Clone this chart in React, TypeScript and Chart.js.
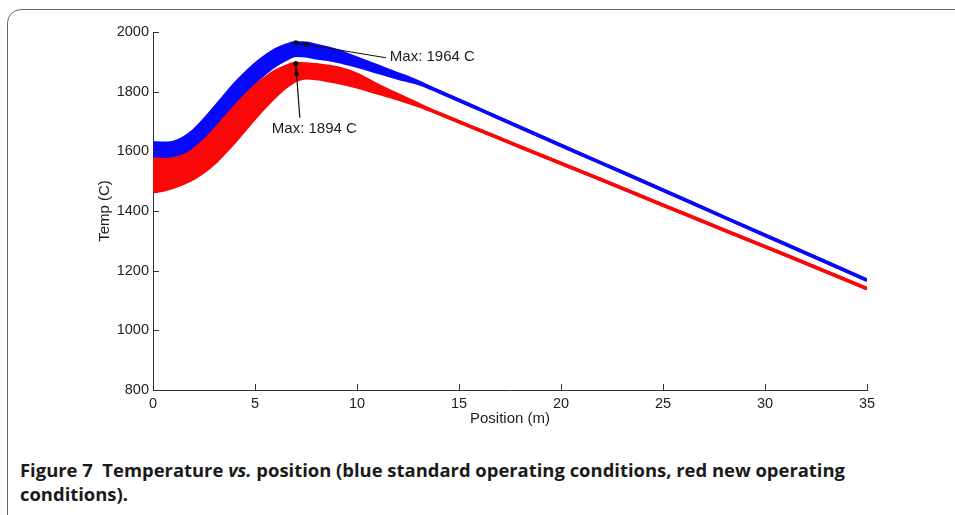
import React, { useEffect, useRef } from 'react';
import { Chart, registerables } from 'chart.js';

Chart.register(...registerables);

// Position (m)
const positions = [0, 0.5, 1, 1.5, 2, 2.5, 3, 3.5, 4, 4.5, 5, 5.5, 6, 6.5, 7, 7.5, 8, 9, 10, 11, 12, 13, 14, 16, 18, 20, 22, 25, 28, 31, 35];
// Blue: standard operating conditions (upper / lower envelope of the oscillating trace)
const blueUpper = [1628, 1627, 1630, 1645, 1670, 1705, 1745, 1785, 1825, 1860, 1892, 1918, 1940, 1955, 1964, 1962, 1955, 1938, 1912, 1886, 1860, 1833, 1801, 1741, 1680, 1620, 1560, 1470, 1379, 1289, 1168];
const blueLower = [1576, 1574, 1578, 1590, 1612, 1645, 1683, 1722, 1762, 1798, 1832, 1862, 1888, 1908, 1922, 1920, 1914, 1903, 1886, 1866, 1846, 1828, 1801, 1741, 1680, 1620, 1560, 1470, 1379, 1289, 1168];
// Red: new operating conditions
const redUpper = [1574, 1572, 1575, 1585, 1605, 1635, 1670, 1710, 1748, 1785, 1818, 1845, 1868, 1884, 1894, 1893, 1890, 1880, 1858, 1822, 1790, 1758, 1727, 1671, 1615, 1560, 1504, 1420, 1336, 1253, 1140];
const redLower = [1465, 1470, 1480, 1493, 1510, 1532, 1560, 1595, 1632, 1672, 1712, 1750, 1785, 1815, 1838, 1847, 1844, 1832, 1816, 1796, 1776, 1753, 1727, 1671, 1615, 1560, 1504, 1420, 1336, 1253, 1140];

const xTicks = [0, 5, 10, 15, 20, 25, 30, 35];
const yTicks = [800, 1000, 1200, 1400, 1600, 1800, 2000];

const maxPositions = [7, 7];
const maxValues = [1964, 1894];
const maxLabels = ['Max: 1964 C', 'Max: 1894 C'];

const xTitle = 'Position (m)';
const yTitle = 'Temp (C)';

const BLUE = 'rgb(8,8,250)';
const RED = 'rgb(250,8,8)';
const AXIS = '#333333';
const TEXT = '#1e1e1e';
const FONT = '"Liberation Sans", Arial, sans-serif';

function pts(vals: number[]) {
  return positions.map((p, i) => ({ x: p, y: vals[i] }));
}

function arrow(ctx: CanvasRenderingContext2D, fx: number, fy: number, tx: number, ty: number) {
  const ang = Math.atan2(ty - fy, tx - fx);
  ctx.beginPath();
  ctx.moveTo(fx, fy);
  ctx.lineTo(tx, ty);
  ctx.stroke();
  const tipX = tx - Math.cos(ang) * 3;
  const tipY = ty - Math.sin(ang) * 3;
  const len = 9;
  const w = 2.6;
  const bx = tipX - Math.cos(ang) * len;
  const by = tipY - Math.sin(ang) * len;
  ctx.beginPath();
  ctx.moveTo(tipX, tipY);
  ctx.lineTo(bx + Math.sin(ang) * w, by - Math.cos(ang) * w);
  ctx.lineTo(bx - Math.sin(ang) * w, by + Math.cos(ang) * w);
  ctx.closePath();
  ctx.fill();
}

const overlay = {
  id: 'overlay',
  afterDatasetsDraw(chart: any) {
    const { ctx, chartArea: a, scales } = chart;
    const x = scales.x;
    const y = scales.y;
    ctx.save();
    ctx.strokeStyle = AXIS;
    ctx.lineWidth = 1;
    xTicks.forEach((v) => {
      const px = Math.round(x.getPixelForValue(v)) + 0.5;
      ctx.beginPath();
      ctx.moveTo(px, a.bottom);
      ctx.lineTo(px, a.bottom - 6);
      ctx.stroke();
    });
    yTicks.forEach((v) => {
      const py = Math.round(y.getPixelForValue(v)) + 0.5;
      ctx.beginPath();
      ctx.moveTo(a.left, py);
      ctx.lineTo(a.left + 6, py);
      ctx.stroke();
    });

    // annotations
    ctx.strokeStyle = '#111';
    ctx.fillStyle = '#111';
    ctx.lineWidth = 1.2;
    ctx.font = `15px ${FONT}`;
    ctx.textBaseline = 'middle';
    ctx.textAlign = 'left';
    const p0x = x.getPixelForValue(maxPositions[0]);
    const p0y = y.getPixelForValue(maxValues[0]);
    arrow(ctx, p0x + 90, p0y + 15, p0x, p0y);
    ctx.beginPath();
    ctx.arc(p0x, p0y, 2.6, 0, Math.PI * 2);
    ctx.fill();
    ctx.fillStyle = TEXT;
    ctx.fillText(maxLabels[0], p0x + 94, p0y + 14);

    const p1x = x.getPixelForValue(maxPositions[1]);
    const p1y = y.getPixelForValue(maxValues[1]);
    ctx.fillStyle = '#111';
    arrow(ctx, p1x + 4, p1y + 54, p1x, p1y);
    ctx.beginPath();
    ctx.arc(p1x, p1y, 2.6, 0, Math.PI * 2);
    ctx.fill();
    ctx.fillStyle = TEXT;
    ctx.fillText(maxLabels[1], p1x - 24, p1y + 65);
    ctx.restore();
  },
};

export default function App() {
  const canvasRef = useRef<HTMLCanvasElement | null>(null);
  const line1Ref = useRef<HTMLDivElement | null>(null);
  const line2Ref = useRef<HTMLDivElement | null>(null);

  useEffect(() => {
    const canvas = canvasRef.current;
    if (!canvas) return;
    const ds = (vals: number[], color: string, fill: any) => ({
      data: pts(vals),
      borderColor: color,
      backgroundColor: color,
      borderWidth: 3.5,
      pointRadius: 0,
      cubicInterpolationMode: 'monotone' as const,
      fill,
    });
    const chart = new Chart(canvas, {
      type: 'line',
      data: {
        datasets: [
          ds(redUpper, RED, false),
          ds(redLower, RED, 0),
          ds(blueUpper, BLUE, false),
          ds(blueLower, BLUE, 2),
        ],
      },
      options: {
        responsive: false,
        animation: false,
        events: [],
        layout: { padding: { left: 90, top: 32, right: 88, bottom: 5 } },
        plugins: { legend: { display: false }, tooltip: { enabled: false } },
        scales: {
          x: {
            type: 'linear',
            min: 0,
            max: 35,
            afterFit: (s: any) => {
              s.height = 45;
            },
            grid: { display: false, drawTicks: false },
            border: { display: true, color: AXIS, width: 1 },
            ticks: {
              stepSize: 5,
              padding: 5,
              color: TEXT,
              font: { family: FONT, size: 14.5 },
              maxRotation: 0,
              autoSkip: false,
              callback: (v: any) => String(v),
            },
            title: {
              display: true,
              text: xTitle,
              color: TEXT,
              font: { family: FONT, size: 15 },
              padding: { top: 0, bottom: 7 },
            },
          },
          y: {
            type: 'linear',
            min: 800,
            max: 2000,
            afterFit: (s: any) => {
              s.width = 63;
            },
            grid: { display: false, drawTicks: false },
            border: { display: true, color: AXIS, width: 1 },
            ticks: {
              stepSize: 200,
              padding: 4,
              color: TEXT,
              font: { family: FONT, size: 14.5 },
              autoSkip: false,
              callback: (v: any) => String(v),
            },
            title: {
              display: true,
              text: yTitle,
              color: TEXT,
              font: { family: FONT, size: 15 },
              padding: { top: 6, bottom: 0 },
            },
          },
        },
      },
      plugins: [overlay],
    });

    const l1 = line1Ref.current;
    const l2 = line2Ref.current;
    if (l1 && l2) {
      const w = l1.getBoundingClientRect().width;
      const k = w > 0 ? 825 / w : 1;
      l1.style.transform = `scaleX(${k})`;
      l2.style.transform = `scaleX(${k})`;
    }
    return () => chart.destroy();
  }, []);

  const capStyle: React.CSSProperties = {
    position: 'absolute',
    left: 20,
    fontFamily: '"Open Sans", "Noto Sans", sans-serif',
    fontWeight: 700,
    fontSize: 17.5,
    lineHeight: '24px',
    color: '#1a1a1a',
    whiteSpace: 'nowrap',
    transformOrigin: '0 0',
    display: 'inline-block',
  };

  return (
    <div
      style={{
        position: 'fixed',
        left: 0,
        top: 0,
        width: 955,
        height: 515,
        background: '#fff',
        overflow: 'hidden',
      }}
    >
      <div
        style={{
          position: 'absolute',
          left: 7,
          top: 9,
          width: 980,
          height: 540,
          border: '1px solid #6a6a6a',
          borderRadius: 14,
          boxSizing: 'border-box',
        }}
      />
      <canvas
        ref={canvasRef}
        width={955}
        height={440}
        style={{ position: 'absolute', left: 0, top: 0, width: 955, height: 440 }}
      />
      <div ref={line1Ref} style={{ ...capStyle, top: 458 }}>
        Figure 7&nbsp;&nbsp;Temperature <i>vs.</i> position (blue standard operating conditions, red new operating
      </div>
      <div ref={line2Ref} style={{ ...capStyle, top: 482 }}>
        conditions).
      </div>
    </div>
  );
}
